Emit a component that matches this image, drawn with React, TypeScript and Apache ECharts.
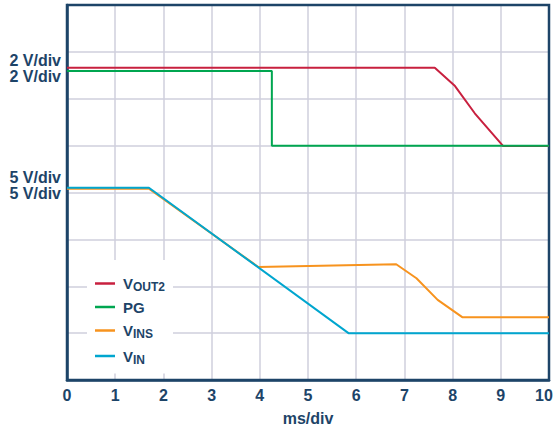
import React, { useEffect, useRef } from "react";
import * as echarts from "echarts";

// time in ms (1 ms/div), level in divisions above the bottom of the screen
const vout2X = [0, 7.63, 8.05, 8.46, 9.05, 10];
const vout2Y = [6.66, 6.66, 6.27, 5.69, 4.99, 4.99];
const pgX = [0, 4.25, 4.25, 10];
const pgY = [6.59, 6.59, 5.0, 5.0];
const vinsX = [0, 1.7, 3.97, 6.83, 7.25, 7.69, 8.2, 10];
const vinsY = [4.08, 4.08, 2.41, 2.47, 2.17, 1.71, 1.34, 1.34];
const vinX = [0, 1.7, 5.84, 10];
const vinY = [4.1, 4.1, 1.0, 1.0];
const xTicks = [0, 1, 2, 3, 4, 5, 6, 7, 8, 9, 10];
const seriesNames = ["VOUT2", "PG", "VINS", "VIN"];
const legendLabels: Record<string, string> = {
  VOUT2: "{v|V}{s|OUT2}",
  PG: "{v|PG}",
  VINS: "{v|V}{s|INS}",
  VIN: "{v|V}{s|IN}",
};
const scaleLabels = [
  { text: "2 V/div", y: 60 },
  { text: "2 V/div", y: 76 },
  { text: "5 V/div", y: 177 },
  { text: "5 V/div", y: 193 },
];

const NAVY = "#1d4468";
const FONT = "'Liberation Sans', Arial, sans-serif";
const colors = ["#c8203f", "#00a650", "#f7931e", "#00a6cf"];

const zip = (xs: number[], ys: number[]) => xs.map((x, i) => [x, ys[i]]);

export default function App() {
  const ref = useRef<HTMLDivElement>(null);
  useEffect(() => {
    document.body.style.margin = "0";
    const chart = echarts.init(ref.current!, null, { renderer: "svg" });
    const data = [zip(vout2X, vout2Y), zip(pgX, pgY), zip(vinsX, vinsY), zip(vinX, vinY)];
    const lastTick = xTicks[xTicks.length - 1];
    chart.setOption({
      animation: false,
      backgroundColor: "#ffffff",
      grid: {
        left: 67,
        right: 5,
        top: 5,
        bottom: 49,
        outerBoundsMode: "none",
        containLabel: false,
        show: true,
        borderColor: NAVY,
        borderWidth: 2.5,
        z: 3,
      },
      xAxis: {
        type: "value",
        min: 0,
        max: 10,
        interval: 1,
        name: "ms/div",
        nameLocation: "middle",
        nameGap: 30,
        nameTextStyle: { color: NAVY, fontWeight: "bold", fontSize: 16, fontFamily: FONT },
        axisLine: { show: true, lineStyle: { color: NAVY, width: 2.5 } },
        axisTick: { show: false },
        axisLabel: {
          color: NAVY,
          fontWeight: "bold",
          fontSize: 16,
          fontFamily: FONT,
          margin: 7,
          formatter: (v: number) =>
            v === lastTick ? `{e|${v}}` : xTicks.includes(v) ? String(v) : "",
          rich: {
            e: { color: NAVY, fontWeight: "bold", fontSize: 16, fontFamily: FONT, padding: [0, 10, 0, 0] },
          },
        },
        splitLine: { show: true, showMinLine: false, showMaxLine: false, lineStyle: { color: "#cfcfdd", width: 1.5 } },
      },
      yAxis: {
        type: "value",
        min: 0,
        max: 8,
        interval: 1,
        axisLine: { show: true, lineStyle: { color: NAVY, width: 2.5 } },
        axisTick: { show: false },
        axisLabel: { show: false },
        splitLine: { show: true, showMinLine: false, showMaxLine: false, lineStyle: { color: "#cfcfdd", width: 1.5 } },
      },
      legend: {
        orient: "vertical",
        left: 87,
        top: 260,
        padding: [14, 8, 8, 8],
        itemGap: 6.5,
        itemWidth: 20,
        itemHeight: 2.5,
        icon: "rect",
        backgroundColor: "#ffffff",
        data: seriesNames,
        formatter: (name: string) => legendLabels[name],
        textStyle: {
          color: NAVY,
          fontFamily: FONT,
          fontWeight: "bold",
          padding: [0, 0, 0, 3],
          rich: {
            v: { fontSize: 15, fontWeight: "bold", color: NAVY, fontFamily: FONT, lineHeight: 16 },
            s: { fontSize: 12, fontWeight: "bold", color: NAVY, fontFamily: FONT, padding: [7, 0, 0, 0], lineHeight: 16 },
          },
        },
      },
      graphic: scaleLabels.map((l) => ({
        type: "text",
        right: 554 - 61,
        top: l.y - 8,
        style: {
          text: l.text,
          fill: NAVY,
          font: `bold 16px ${FONT}`,
          textAlign: "right",
        },
      })),
      series: seriesNames.map((name, i) => ({
        name,
        type: "line",
        data: data[i],
        symbol: "none",
        color: colors[i],
        lineStyle: { width: 2, color: colors[i] },
        z: 5,
      })),
    });
    return () => chart.dispose();
  }, []);
  return <div ref={ref} style={{ width: 554, height: 429 }} />;
}
